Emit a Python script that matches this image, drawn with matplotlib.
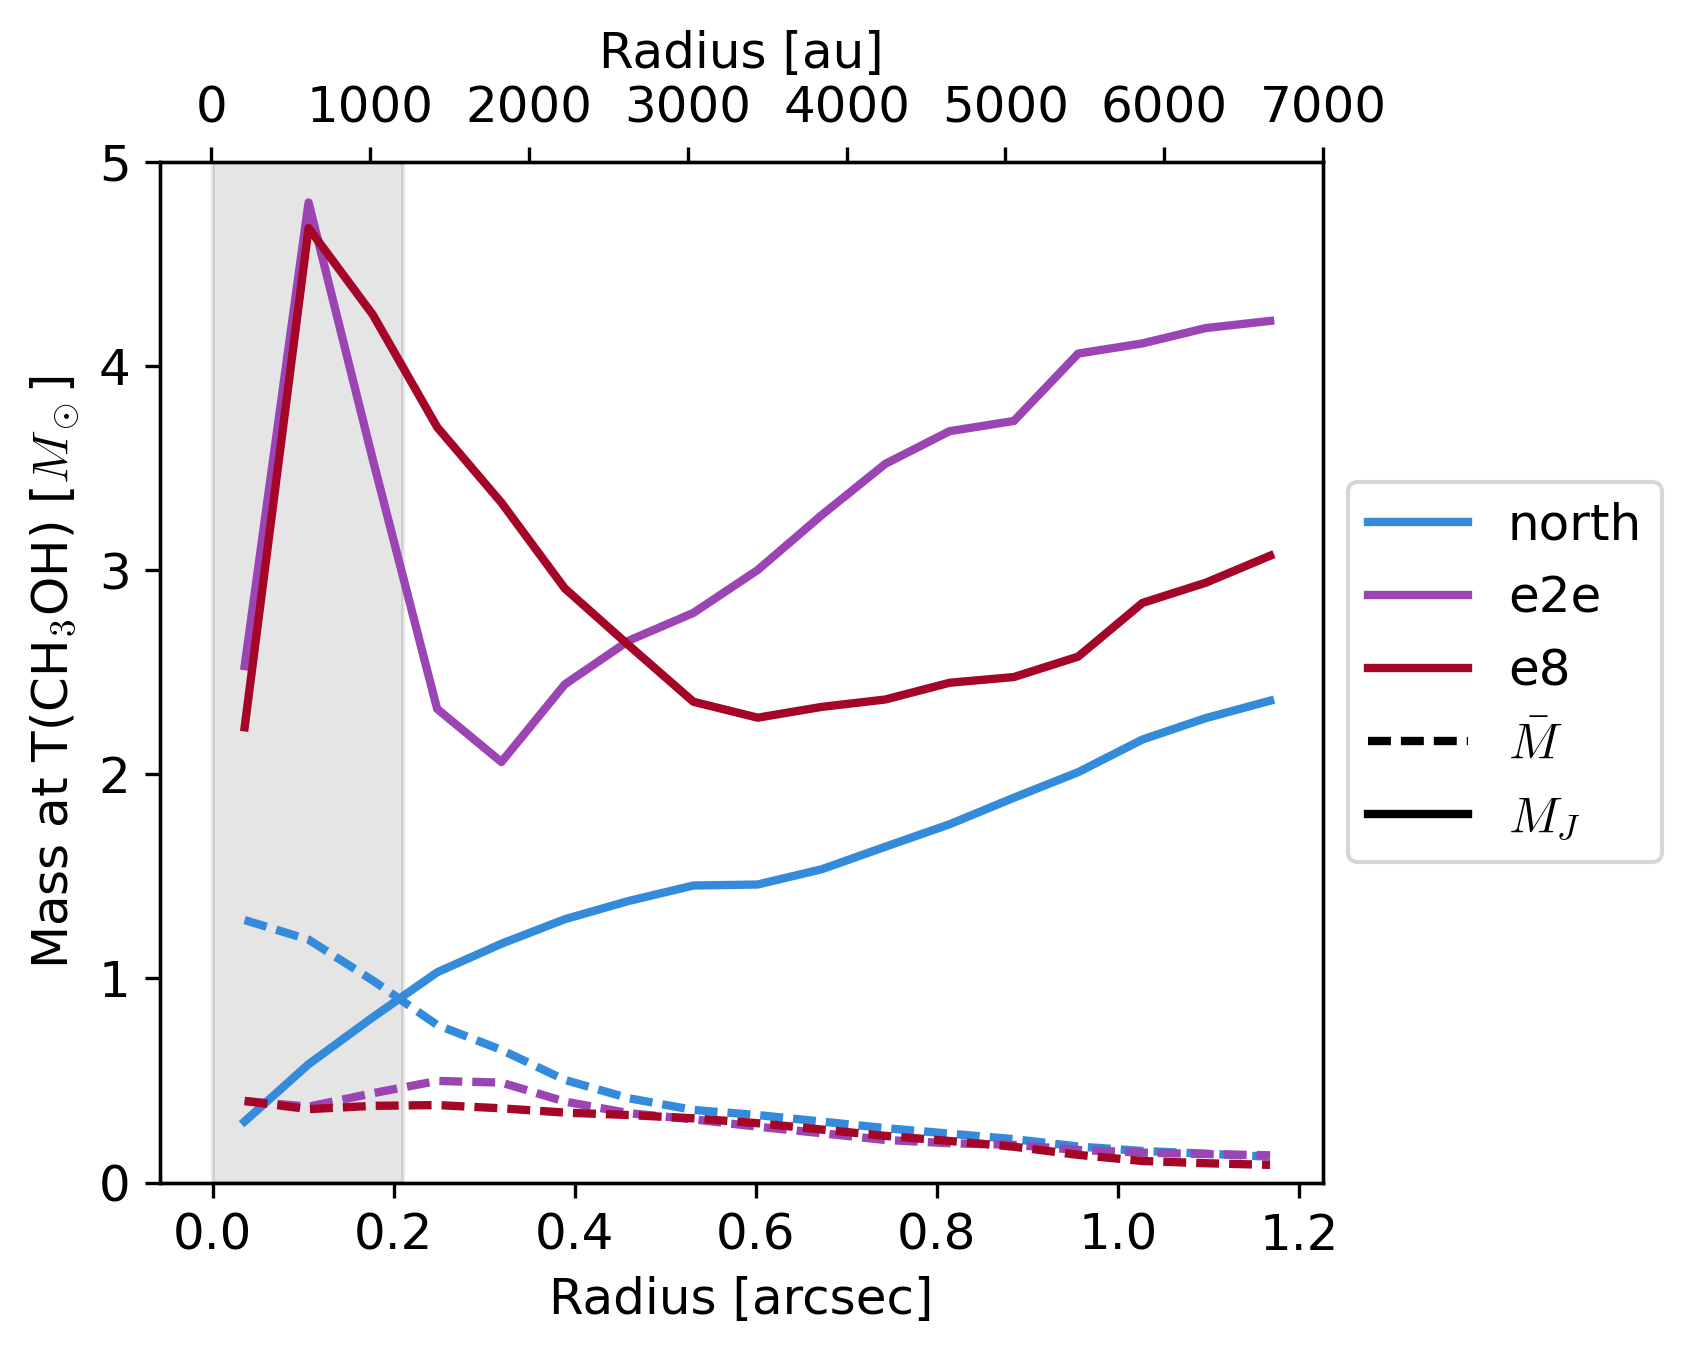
import numpy as np
import matplotlib
matplotlib.use('Agg')
import matplotlib.pyplot as plt
from matplotlib.lines import Line2D

plt.rcParams['font.size'] = 12
plt.rcParams['mathtext.fontset'] = 'cm'

# radial bins [arcsec]
radius = np.array([0.0354, 0.106, 0.177, 0.248, 0.319, 0.389, 0.460, 0.531,
                   0.602, 0.673, 0.743, 0.814, 0.885, 0.956, 1.027, 1.097, 1.168])

sources = ['north', 'e2e', 'e8']
colors = ['#348adb', '#9b45b5', '#a50628']

# Jeans mass M_J (solid)
mj_north = [0.30, 0.58, 0.81, 1.03, 1.17, 1.29, 1.38, 1.455, 1.46, 1.535,
            1.645, 1.755, 1.885, 2.01, 2.17, 2.275, 2.36]
mj_e2e = [2.53, 4.80, 3.54, 2.32, 2.06, 2.44, 2.655, 2.79, 3.00, 3.27,
          3.52, 3.68, 3.73, 4.06, 4.11, 4.185, 4.22]
mj_e8 = [2.23, 4.675, 4.25, 3.70, 3.33, 2.91, 2.63, 2.355, 2.277, 2.33,
         2.366, 2.448, 2.476, 2.576, 2.839, 2.938, 3.07]

# mean mass M-bar (dashed)
mbar_north = [1.286, 1.19, 0.99, 0.772, 0.65, 0.503, 0.413, 0.356, 0.331,
              0.299, 0.267, 0.24, 0.213, 0.177, 0.155, 0.142, 0.127]
mbar_e2e = [0.40, 0.372, 0.438, 0.498, 0.49, 0.397, 0.34, 0.31, 0.274,
            0.242, 0.209, 0.193, 0.185, 0.16, 0.147, 0.14, 0.134]
mbar_e8 = [0.40, 0.36, 0.376, 0.38, 0.364, 0.343, 0.331, 0.315, 0.291,
           0.26, 0.229, 0.204, 0.176, 0.136, 0.106, 0.095, 0.087]

mj = [mj_north, mj_e2e, mj_e8]
mbar = [mbar_north, mbar_e2e, mbar_e8]

beam = 0.21           # shaded region [arcsec]
au_lim = (-326, 7000)  # top axis range [au]

fig = plt.figure(figsize=(5.64, 4.5167), dpi=300)
ax = fig.add_axes([0.0944, 0.1272, 0.6875, 0.7535])

ax.axvspan(0, beam, color='k', alpha=0.1)

dash = (2.75, 1.2)
for name, c, m1, m2 in zip(sources, colors, mj, mbar):
    ax.plot(radius, m1, color=c, lw=2)
    ax.plot(radius, m2, color=c, lw=2, ls='--', dashes=dash)

ax.set_ylim(0, 5)
ax.set_yticks(range(6))
ax.set_xticks(np.arange(0, 1.21, 0.2))
ax.set_xlabel('Radius [arcsec]')
ax.set_ylabel(r'Mass at T(CH$_3$OH) [$M_\odot$]')

ax2 = ax.twiny()
ax2.set_xlim(au_lim)
ax2.set_xticks(np.arange(0, 7001, 1000))
ax2.set_xlabel('Radius [au]')

handles = [Line2D([], [], color=c, lw=2) for c in colors]
handles.append(Line2D([], [], color='k', lw=2, ls='--', dashes=dash))
handles.append(Line2D([], [], color='k', lw=2))
labels = sources + [r'$\bar{M}$', r'$M_J$']
ax.legend(handles, labels, loc='center left', bbox_to_anchor=(1, 0.5))

fig.savefig('out.png', dpi=300)
